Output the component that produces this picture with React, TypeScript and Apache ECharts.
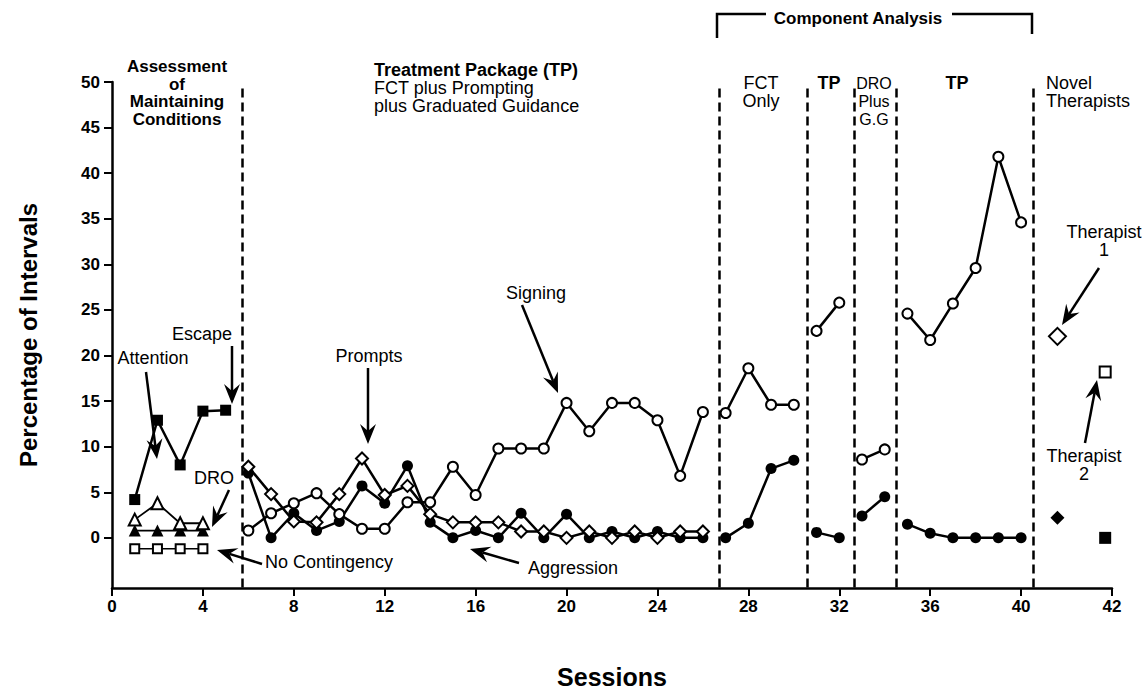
import React, { useEffect, useRef } from "react";
import * as echarts from "echarts";

// ---------- data ----------
const sessionsAssess = [1, 2, 3, 4, 5];
const escape = [4.2, 12.9, 8, 13.9, 14];
const sessionsAssess4 = [1, 2, 3, 4];
const attention = [2, 3.8, 1.6, 1.6];
const droAssess = [0.8, 0.8, 0.8, 0.8];
const noContingency = [-1.2, -1.2, -1.2, -1.2];

const sessionsTP = [6, 7, 8, 9, 10, 11, 12, 13, 14, 15, 16, 17, 18, 19, 20, 21, 22, 23, 24, 25, 26];
const signingTP = [0.8, 2.7, 3.8, 4.9, 2.6, 1.0, 1.0, 3.9, 3.9, 7.8, 4.7, 9.8, 9.8, 9.8, 14.8, 11.7, 14.8, 14.8, 12.9, 6.8, 13.8];
const promptsTP = [7.8, 4.8, 1.8, 1.7, 4.8, 8.7, 4.7, 5.7, 2.6, 1.7, 1.7, 1.7, 0.7, 0.7, 0, 0.7, 0, 0.7, 0, 0.7, 0.7];
const aggressionTP = [7.1, 0, 2.7, 0.8, 1.8, 5.7, 3.8, 7.9, 1.7, 0, 0.8, 0, 2.7, 0, 2.6, 0, 0.7, 0, 0.7, 0, 0];

const sessionsFCT = [27, 28, 29, 30];
const signingFCT = [13.7, 18.6, 14.6, 14.6];
const aggressionFCT = [0, 1.6, 7.6, 8.5];

const sessionsTP2 = [31, 32];
const signingTP2 = [22.7, 25.8];
const aggressionTP2 = [0.6, 0];

const sessionsDRO = [33, 34];
const signingDRO = [8.6, 9.7];
const aggressionDRO = [2.4, 4.5];

const sessionsTP3 = [35, 36, 37, 38, 39, 40];
const signingTP3 = [24.6, 21.7, 25.7, 29.6, 41.8, 34.6];
const aggressionTP3 = [1.5, 0.5, 0, 0, 0, 0];

const therapist1Session = [41.6];
const therapist1Open = [22.1];
const therapist1Filled = [2.2];
const therapist2Session = [43.7];
const therapist2Open = [18.2];
const therapist2Filled = [0];

const phaseLines = [5.75, 26.7, 30.6, 32.65, 34.5, 40.55];

const yTickValues = [0, 5, 10, 15, 20, 25, 30, 35, 40, 45, 50];
const xTickValues = [0, 4, 8, 12, 16, 20, 24, 28, 32, 36, 40, 44];
const xTickLabels = ["0", "4", "8", "12", "16", "20", "24", "28", "32", "36", "40", "42"];

// ---------- helpers ----------
const FONT = "'Liberation Sans', Arial, Helvetica, sans-serif";
const pts = (xs: number[], ys: number[]) => xs.map((x, i) => [x, ys[i]]);

function series(xs: number[], ys: number[], symbol: string, filled: boolean, size: number, lw = 2.5, extra: any = {}) {
  return {
    type: "line",
    data: pts(xs, ys),
    symbol,
    symbolSize: size,
    showAllSymbol: true,
    lineStyle: { color: "#000", width: lw },
    itemStyle: filled
      ? { color: "#000", borderColor: "#000", borderWidth: 0 }
      : { color: "#fff", borderColor: "#000", borderWidth: 2 },
    emphasis: { disabled: true },
    silent: true,
    z: filled ? 3 : 4,
    ...extra,
  };
}

function arrow(x1: number, y1: number, x2: number, y2: number, head = 20, hw = 8) {
  const dx = x2 - x1, dy = y2 - y1;
  const len = Math.hypot(dx, dy);
  const ux = dx / len, uy = dy / len;
  const nx = -uy, ny = ux;
  const bx = x2 - ux * head, by = y2 - uy * head;
  const notchX = bx + ux * head * 0.35, notchY = by + uy * head * 0.35;
  return [
    { type: "line", shape: { x1, y1, x2: notchX, y2: notchY }, style: { stroke: "#000", lineWidth: 2.5 } },
    {
      type: "polygon",
      shape: { points: [[x2, y2], [bx + nx * hw, by + ny * hw], [notchX, notchY], [bx - nx * hw, by - ny * hw]] },
      style: { fill: "#000" },
    },
  ];
}

function txt(text: string, x: number, y: number, align = "center", weight = "normal", size = 18, lh = 18) {
  return {
    type: "text",
    x,
    y,
    style: { text, font: `${weight} ${size}px ${FONT}`, fill: "#000", align, verticalAlign: "middle", lineHeight: lh },
    silent: true,
  };
}

export default function App() {
  const ref = useRef<HTMLDivElement>(null);
  useEffect(() => {
    if (!ref.current) return;
    const chart = echarts.init(ref.current, undefined, { renderer: "svg" });
    const dashed = { color: "#000", width: 2.5, type: [9, 5] };
    const option: any = {
      animation: false,
      backgroundColor: "#fff",
      grid: { left: 112, top: 82, width: 1000, height: 506, containLabel: false, outerBoundsMode: "none" },
      xAxis: {
        type: "value",
        min: 0,
        max: 44,
        axisLine: { show: true, onZero: false, lineStyle: { color: "#000", width: 2.5 } },
        axisTick: { show: true, length: 8, inside: false, lineStyle: { color: "#000", width: 2 }, customValues: xTickValues },
        axisLabel: {
          customValues: xTickValues,
          formatter: (v: number) => xTickLabels[xTickValues.indexOf(v)] ?? "",
          color: "#000",
          fontFamily: FONT,
          fontWeight: "bold",
          fontSize: 17,
          margin: 10,
        },
        splitLine: { show: false },
        name: "Sessions",
        nameLocation: "middle",
        nameGap: 76,
        nameTextStyle: { color: "#000", fontFamily: FONT, fontWeight: "bold", fontSize: 25 },
      },
      yAxis: {
        type: "value",
        min: -5.5,
        max: 50,
        axisLine: { show: true, onZero: false, lineStyle: { color: "#000", width: 2.5 } },
        axisTick: { show: true, length: 8, lineStyle: { color: "#000", width: 2 }, customValues: yTickValues },
        axisLabel: {
          customValues: yTickValues,
          color: "#000",
          fontFamily: FONT,
          fontWeight: "bold",
          fontSize: 17,
          margin: 12,
        },
        splitLine: { show: false },
        name: "Percentage of Intervals",
        nameLocation: "middle",
        nameGap: 72,
        nameRotate: 90,
        nameTextStyle: { color: "#000", fontFamily: FONT, fontWeight: "bold", fontSize: 24 },
      },
      series: [
        series(sessionsAssess, escape, "rect", true, 11, 2.5, {
          markLine: {
            silent: true,
            symbol: ["none", "none"],
            label: { show: false },
            lineStyle: dashed,
            data: phaseLines.map((x) => [{ coord: [x, 49.3] }, { coord: [x, -5.5] }]),
          },
        }),
        series(sessionsAssess4, attention, "triangle", false, 12, 1.8),
        series(sessionsAssess4, droAssess, "triangle", true, 12, 1.8),
        series(sessionsAssess4, noContingency, "rect", false, 9, 1.5),
        series(sessionsTP, aggressionTP, "circle", true, 11),
        series(sessionsTP, promptsTP, "diamond", false, 12),
        series(sessionsTP, signingTP, "circle", false, 10),
        series(sessionsFCT, aggressionFCT, "circle", true, 11),
        series(sessionsFCT, signingFCT, "circle", false, 10),
        series(sessionsTP2, aggressionTP2, "circle", true, 11),
        series(sessionsTP2, signingTP2, "circle", false, 10),
        series(sessionsDRO, aggressionDRO, "circle", true, 11),
        series(sessionsDRO, signingDRO, "circle", false, 10),
        series(sessionsTP3, aggressionTP3, "circle", true, 11),
        series(sessionsTP3, signingTP3, "circle", false, 10),
        series(therapist1Session, therapist1Open, "diamond", false, 17),
        series(therapist1Session, therapist1Filled, "diamond", true, 14),
        series(therapist2Session, therapist2Open, "rect", false, 11),
        series(therapist2Session, therapist2Filled, "rect", true, 12),
      ],
      graphic: [
        txt("Assessment\nof\nMaintaining\nConditions", 177, 93, "center", "bold", 17, 17.5),
        txt("Treatment Package (TP)", 374, 70, "left", "bold", 18),
        txt("FCT plus Prompting\nplus Graduated Guidance", 374, 97, "left", "normal", 18, 18),
        txt("Component Analysis", 858, 18, "center", "bold", 17),
        { type: "polyline", shape: { points: [[717, 38], [717, 14], [766, 14]] }, style: { stroke: "#000", lineWidth: 2.5, fill: "none" } },
        { type: "polyline", shape: { points: [[952, 14], [1032, 14], [1032, 34]] }, style: { stroke: "#000", lineWidth: 2.5, fill: "none" } },
        txt("FCT\nOnly", 761, 92, "center", "normal", 18, 18),
        txt("TP", 829, 83, "center", "bold", 18),
        txt("DRO\nPlus\nG.G", 874, 101, "center", "normal", 16, 18),
        txt("TP", 957, 83, "center", "bold", 18),
        txt("Novel\nTherapists", 1046, 92, "left", "normal", 18, 18),
        txt("Therapist\n1", 1104, 241, "center", "normal", 18, 18),
        txt("Therapist\n2", 1084, 465, "center", "normal", 18, 18),
        txt("Signing", 536, 293),
        txt("Prompts", 369, 356),
        txt("Escape", 202, 334),
        txt("Attention", 153, 358),
        txt("DRO", 214, 478),
        txt("No Contingency", 265, 562, "left"),
        txt("Aggression", 528, 568, "left"),
        ...arrow(522, 305, 558, 393),
        ...arrow(368, 368, 368, 444),
        ...arrow(232, 346, 232, 404),
        ...arrow(146, 372, 157, 459),
        ...arrow(229, 490, 212, 527),
        ...arrow(262, 564, 217, 550),
        ...arrow(519, 563, 470, 549),
        ...arrow(1099, 268, 1062, 325),
        ...arrow(1085, 443, 1097, 380),
      ],
    };
    chart.setOption(option);
    return () => chart.dispose();
  }, []);
  return <div ref={ref} style={{ position: "fixed", left: 0, top: 0, width: 1145, height: 690, background: "#fff" }} />;
}
